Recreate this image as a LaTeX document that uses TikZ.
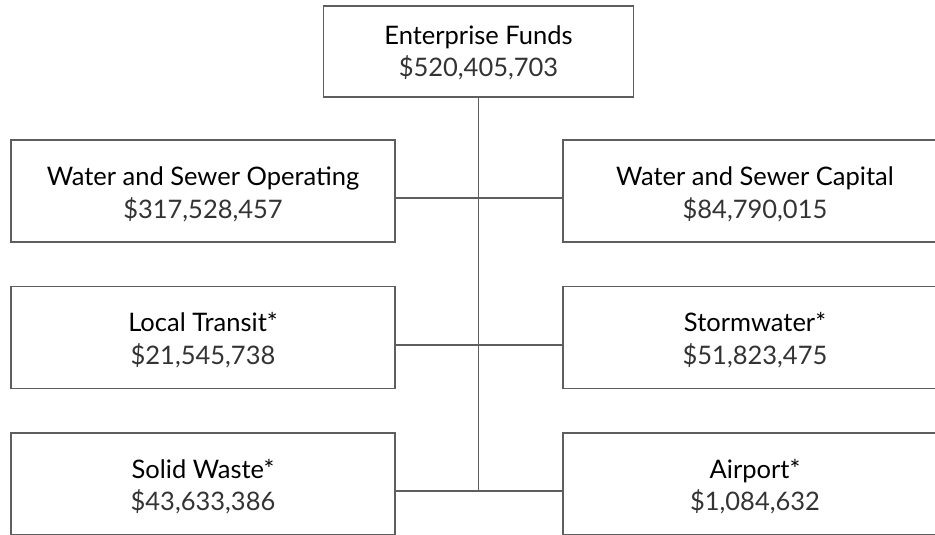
\documentclass[tikz,border=0pt]{standalone}
\usepackage{fontspec}
\setmainfont{Lato}
\definecolor{edgegray}{HTML}{5E5E5E}
\definecolor{amountgray}{HTML}{333333}
\begin{document}
\begin{tikzpicture}[x=1pt,y=-1pt,
  fundbox/.style={draw=edgegray, line width=1.3pt, minimum width=384pt,
    minimum height=102pt, inner sep=0pt},
  topbox/.style={draw=edgegray, line width=1.3pt, minimum width=310pt,
    minimum height=91pt, inner sep=0pt},
  fundname/.style={anchor=base, inner sep=0pt, text=black,
    font=\fontsize{25.5}{30}\selectfont},
  fundamount/.style={anchor=base, inner sep=0pt, text=amountgray,
    font=\fontsize{25.5}{30}\selectfont},
  link/.style={draw=edgegray, line width=1.3pt}]
\useasboundingbox (0,0) rectangle (935,535);
\clip (0,0) rectangle (935,535);

% top-level fund
\node[topbox] (ef) at (478.5,51.5) {};
\node[fundname] (ef-t) at (478.5,45) {Enterprise Funds};
\node[fundamount] (ef-a) at (478.5,77) {\$520,405,703};

% left column
\node[fundbox] (wso) at (203,191) {};
\node[fundname] (wso-t) at (203,185) {Water and Sewer Operating};
\node[fundamount] (wso-a) at (203,218) {\$317,528,457};

\node[fundbox] (lt) at (203,337.5) {};
\node[fundname] (lt-t) at (203,331.5) {Local Transit*};
\node[fundamount] (lt-a) at (203,364) {\$21,545,738};

\node[fundbox] (sw) at (203,484) {};
\node[fundname] (sw-t) at (203,478) {Solid Waste*};
\node[fundamount] (sw-a) at (203,510) {\$43,633,386};

% right column
\node[fundbox] (wsc) at (755,191) {};
\node[fundname] (wsc-t) at (755,185) {Water and Sewer Capital};
\node[fundamount] (wsc-a) at (755,218) {\$84,790,015};

\node[fundbox] (st) at (755,337.5) {};
\node[fundname] (st-t) at (755,331.5) {Stormwater*};
\node[fundamount] (st-a) at (755,364) {\$51,823,475};

\node[fundbox] (ap) at (755,484) {};
\node[fundname] (ap-t) at (755,478) {Airport*};
\node[fundamount] (ap-a) at (755,510) {\$1,084,632};

% junctions on the trunk
\coordinate (j1) at (478.5,198);
\coordinate (j2) at (478.5,345);
\coordinate (j3) at (478.5,491);

% connectors
\draw[link] (ef.south) -- (j3);
\draw[link] (wso.east |- j1) -- (wsc.west |- j1);
\draw[link] (lt.east |- j2) -- (st.west |- j2);
\draw[link] (sw.east |- j3) -- (ap.west |- j3);
\end{tikzpicture}
\end{document}
